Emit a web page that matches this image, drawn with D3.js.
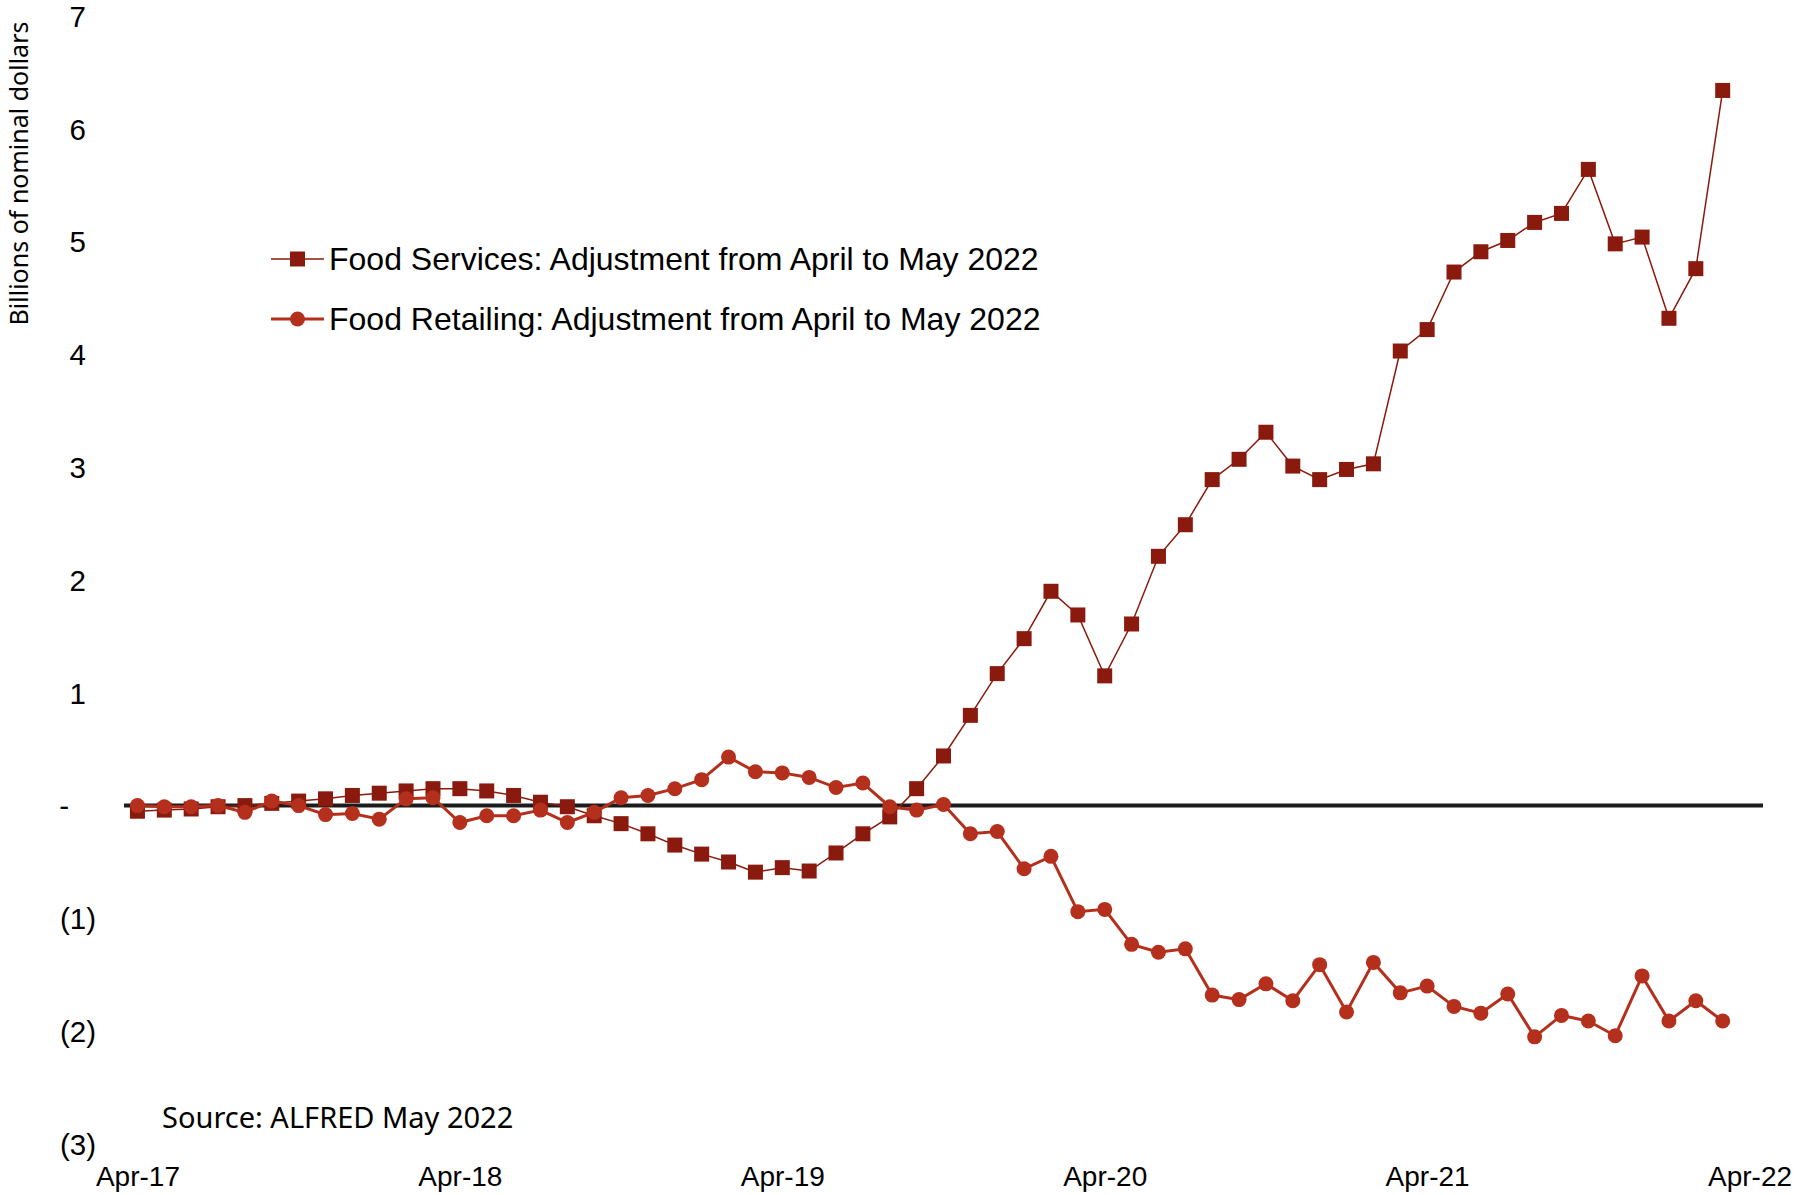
<!DOCTYPE html>
<html>
<head>
<meta charset="utf-8">
<script src="https://cdn.jsdelivr.net/npm/d3@7"></script>
<style>
  html, body { margin: 0; padding: 0; background: #ffffff; }
  svg { display: block; }
</style>
</head>
<body>
<svg id="chart" width="1810" height="1195"></svg>
<script>
// Monthly observations, Apr 2017 through Mar 2022
const months = d3.timeMonth.range(new Date(2017, 3, 1), new Date(2022, 3, 1));

// Revision to the level (billions of nominal dollars)
const foodServices = [
  -0.05, -0.04, -0.03, -0.01, 0.00, 0.02, 0.04, 0.06, 0.09, 0.11,
   0.13,  0.15,  0.15,  0.13, 0.09, 0.03, -0.01, -0.09, -0.16, -0.25,
  -0.35, -0.43, -0.50, -0.59, -0.55, -0.58, -0.42, -0.25, -0.10, 0.15,
   0.44,  0.80,  1.17,  1.48,  1.90,  1.69,  1.15,  1.61,  2.21, 2.49,
   2.89,  3.07,  3.31,  3.01,  2.89,  2.98,  3.03,  4.03,  4.22, 4.73,
   4.91,  5.01,  5.17,  5.25,  5.64,  4.98,  5.04,  4.32,  4.76, 6.34
];
const foodRetailing = [
   0.00, -0.01, -0.01,  0.00, -0.06,  0.04,  0.00, -0.08, -0.07, -0.12,
   0.06,  0.07, -0.15, -0.09, -0.09, -0.04, -0.15, -0.06,  0.07,  0.09,
   0.15,  0.23,  0.43,  0.30,  0.29,  0.25,  0.16,  0.20, -0.01, -0.04,
   0.01, -0.25, -0.23, -0.56, -0.45, -0.94, -0.92, -1.23, -1.30, -1.27,
  -1.68, -1.72, -1.58, -1.73, -1.41, -1.83, -1.39, -1.66, -1.60, -1.78,
  -1.84, -1.67, -2.05, -1.86, -1.91, -2.04, -1.51, -1.91, -1.73, -1.91
];

const xTickIndex  = [0, 12, 24, 36, 48, 60];
const xTickLabels = ["Apr-17", "Apr-18", "Apr-19", "Apr-20", "Apr-21", "Apr-22"];
const yTickValues = [-3, -2, -1, 0, 1, 2, 3, 4, 5, 6, 7];
const yTickLabels = ["(3)", "(2)", "(1)", "-", "1", "2", "3", "4", "5", "6", "7"];

const seriesNames = [
  "Food Services: Adjustment from April to May 2022",
  "Food Retailing: Adjustment from April to May 2022"
];
const yTitle = "Billions of nominal dollars";
const sourceNote = "Source: ALFRED May 2022";

const colServices = "#8a1a0d";
const colRetail = "#b52f1d";

const svg = d3.select("#chart");

const x = d3.scaleLinear().domain([-0.5, months.length + 0.5]).range([124, 1763]);
const y = d3.scaleLinear().domain([-3, 7]).range([1144, 16]);

// Y axis labels (accounting style: negatives in parentheses, zero as a dash)
const yAxis = d3.axisLeft(y)
  .tickValues(yTickValues)
  .tickFormat((d, i) => yTickLabels[i])
  .tickSize(0)
  .tickPadding(0);
const gy = svg.append("g").attr("transform", "translate(96,0)").call(yAxis);
gy.select(".domain").remove();
gy.selectAll("text")
  .attr("font-family", "'Liberation Sans', Arial, sans-serif")
  .attr("font-size", 29.5)
  .attr("fill", "#000")
  .attr("x", d => d < 0 ? 0 : (d === 0 ? -27 : -10))
  .attr("dy", "0.35em");

// X axis labels
const xAxis = d3.axisBottom(x)
  .tickValues(xTickIndex)
  .tickFormat((d, i) => xTickLabels[i])
  .tickSize(0)
  .tickPadding(0);
const gx = svg.append("g").attr("transform", "translate(0,1186)").call(xAxis);
gx.select(".domain").remove();
gx.selectAll("text")
  .attr("font-family", "'Liberation Sans', Arial, sans-serif")
  .attr("font-size", 28)
  .attr("fill", "#000")
  .attr("y", 0)
  .attr("dy", 0);

// Zero line
svg.append("line")
  .attr("x1", x(-0.5)).attr("x2", x(months.length + 0.5))
  .attr("y1", y(0)).attr("y2", y(0))
  .attr("stroke", "#1c1c1c")
  .attr("stroke-width", 4);

// Food services: thin line with square markers
const line = d3.line().x((d, i) => x(i)).y(d => y(d));
const sq = 15;
svg.append("path")
  .datum(foodServices)
  .attr("d", line)
  .attr("fill", "none")
  .attr("stroke", colServices)
  .attr("stroke-width", 1.5);
svg.append("g").selectAll("rect")
  .data(foodServices)
  .join("rect")
  .attr("x", (d, i) => x(i) - sq / 2)
  .attr("y", d => y(d) - sq / 2)
  .attr("width", sq).attr("height", sq)
  .attr("fill", colServices);

// Food retailing: heavier line with circle markers
svg.append("path")
  .datum(foodRetailing)
  .attr("d", line)
  .attr("fill", "none")
  .attr("stroke", colRetail)
  .attr("stroke-width", 3);
svg.append("g").selectAll("circle")
  .data(foodRetailing)
  .join("circle")
  .attr("cx", (d, i) => x(i))
  .attr("cy", d => y(d))
  .attr("r", 7.5)
  .attr("fill", colRetail);

// Legend
const legend = svg.append("g");
const legendRows = [
  { name: seriesNames[0], color: colServices, width: 1.5, shape: "square", cy: 259, base: 270 },
  { name: seriesNames[1], color: colRetail, width: 3, shape: "circle", cy: 319, base: 330 }
];
legendRows.forEach(r => {
  legend.append("line")
    .attr("x1", 271).attr("x2", 324)
    .attr("y1", r.cy).attr("y2", r.cy)
    .attr("stroke", r.color).attr("stroke-width", r.width);
  if (r.shape === "square") {
    legend.append("rect")
      .attr("x", 297.5 - sq / 2).attr("y", r.cy - sq / 2)
      .attr("width", sq).attr("height", sq)
      .attr("fill", r.color);
  } else {
    legend.append("circle")
      .attr("cx", 297.5).attr("cy", r.cy).attr("r", 7.5)
      .attr("fill", r.color);
  }
  legend.append("text")
    .attr("x", 329).attr("y", r.base)
    .attr("font-family", "'Liberation Sans', Arial, sans-serif")
    .attr("font-size", 32)
    .attr("fill", "#000")
    .text(r.name);
});

// Axis title
svg.append("text")
  .attr("transform", "translate(28,173.5) rotate(-90)")
  .attr("text-anchor", "middle")
  .attr("font-family", "'Noto Sans', 'Open Sans', sans-serif")
  .attr("font-size", 25)
  .attr("fill", "#000")
  .text(yTitle);

// Source note
svg.append("text")
  .attr("x", 162).attr("y", 1128)
  .attr("font-family", "'Noto Sans', 'Open Sans', sans-serif")
  .attr("font-size", 29)
  .attr("fill", "#000")
  .text(sourceNote);
</script>
</body>
</html>
